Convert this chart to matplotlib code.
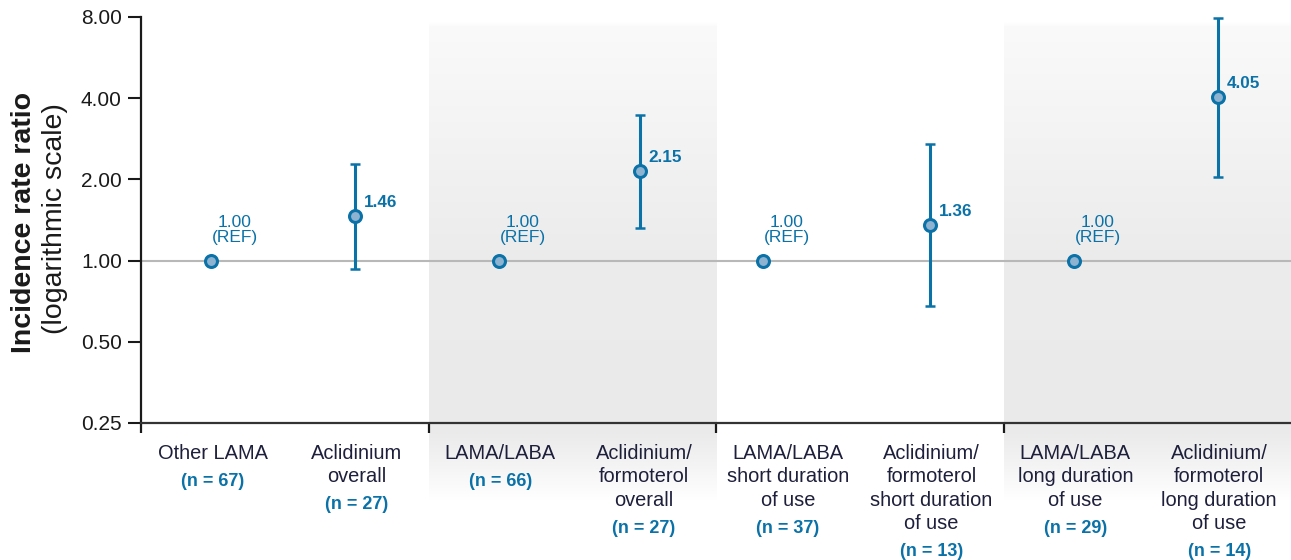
import numpy as np
import matplotlib
matplotlib.use('Agg')
import matplotlib.pyplot as plt
from matplotlib.transforms import blended_transform_factory

plt.rcParams['font.family'] = ['Liberation Sans', 'DejaVu Sans']

# incidence rate ratios with 95% CI
categories = [
    'Other LAMA',
    'Aclidinium\noverall',
    'LAMA/LABA',
    'Aclidinium/\nformoterol\noverall',
    'LAMA/LABA\nshort duration\nof use',
    'Aclidinium/\nformoterol\nshort duration\nof use',
    'LAMA/LABA\nlong duration\nof use',
    'Aclidinium/\nformoterol\nlong duration\nof use',
]
n_labels = ['(n = 67)', '(n = 27)', '(n = 66)', '(n = 27)',
            '(n = 37)', '(n = 13)', '(n = 29)', '(n = 14)']
irr = [1.00, 1.46, 1.00, 2.15, 1.00, 1.36, 1.00, 4.05]
ci_low = [None, 0.93, None, 1.32, None, 0.68, None, 2.05]
ci_high = [None, 2.29, None, 3.47, None, 2.71, None, 7.93]
is_ref = [True, False, True, False, True, False, True, False]
yticks = [0.25, 0.5, 1, 2, 4, 8]
ytick_labels = ['0.25', '0.50', '1.00', '2.00', '4.00', '8.00']

# category slots; the short-duration reference point sits a bit left of its slot
label_pos = np.arange(len(categories)) + 0.5
point_pos = [0.49, 1.49, 2.49, 3.47, 4.33, 5.49, 6.49, 7.49]

BLUE = '#0b72a8'
FACE = '#8db3d1'
TXT = '#1d1f3b'

W, H = 1291, 560
fig = plt.figure(figsize=(W / 100, H / 100), dpi=100)

ax = fig.add_axes([141 / W, (H - 423) / H, (W - 141) / W, (423 - 17) / H])
ax.set_yscale('log', base=2)
ax.set_ylim(0.25, 8)
ax.set_xlim(0, 8)
ax.patch.set_alpha(0)

# background layer in pixel coordinates for the shaded groups
bg = fig.add_axes([0, 0, 1, 1], zorder=-1)
bg.axis('off')
ys = np.arange(H)
grey = np.interp(ys, [0, 22, 26, 250, 430, 462, 500, H],
                 [255, 255, 250, 236, 234, 243, 255, 255])
grad = np.repeat(grey[:, None], 2, axis=1) / 255.0
for x0, x1 in [(2, 4), (6, 8)]:
    px0 = ax.transData.transform((x0, 1))[0]
    px1 = ax.transData.transform((x1, 1))[0]
    bg.imshow(np.dstack([grad, grad, grad]), extent=(px0, px1, H, 0),
              aspect='auto', interpolation='bilinear')
bg.set_xlim(0, W)
bg.set_ylim(H, 0)

# reference line at 1
ax.axhline(1, color='#b8b8b8', lw=1.5, zorder=1)

for i in range(len(irr)):
    x = point_pos[i]
    if ci_low[i] is not None:
        ax.errorbar(x, irr[i], yerr=[[irr[i] - ci_low[i]], [ci_high[i] - irr[i]]],
                    fmt='none', ecolor=BLUE, elinewidth=2.2, capsize=3.4,
                    capthick=1.8, zorder=3)
    ax.plot(x, irr[i], 'o', ms=8.6, mfc=FACE, mec=BLUE, mew=2.2, zorder=4)
    if is_ref[i]:
        ax.annotate('{:.2f}\n(REF)'.format(irr[i]), (x, irr[i]),
                    xytext=(17, 11), textcoords='offset points',
                    ha='center', va='bottom', fontsize=12.5, color=BLUE,
                    linespacing=1.0)
    else:
        ax.annotate('{:.2f}'.format(irr[i]), (x, irr[i]),
                    xytext=(6.5, 6.5), textcoords='offset points',
                    ha='left', va='baseline', fontsize=12.3, color=BLUE,
                    fontweight='bold')

# axes styling
for s in ['top', 'right']:
    ax.spines[s].set_visible(False)
ax.spines['left'].set_color('#1a1a1a')
ax.spines['left'].set_linewidth(1.6)
ax.spines['bottom'].set_color('#333333')
ax.spines['bottom'].set_linewidth(1.6)
ax.set_yticks(yticks)
ax.set_yticklabels(ytick_labels)
ax.yaxis.set_minor_locator(matplotlib.ticker.NullLocator())
ax.tick_params(axis='y', length=9.5, width=1.5, pad=4.3, labelsize=15,
               colors='#1a1a1a', direction='out')
ax.set_xticks([0, 2, 4, 6])
ax.set_xticklabels([])
ax.tick_params(axis='x', length=7, width=1.6, color='#1a1a1a', direction='out')

# category labels under the axis, one line at a time
tr = blended_transform_factory(ax.transData, fig.transFigure)
line_gap = 23.3
for i, lab in enumerate(categories):
    lines = lab.split('\n')
    for k, line in enumerate(lines):
        y = 459 + line_gap * k
        fig.text(label_pos[i], 1 - y / H, line, transform=tr, ha='center',
                 va='baseline', fontsize=14.4, color=TXT)
    y_n = 459 + line_gap * (len(lines) - 1) + 27
    ax.text(label_pos[i], 1 - y_n / H, n_labels[i], transform=tr,
            ha='center', va='baseline', fontsize=13, color=BLUE,
            fontweight='bold', clip_on=False)

fig.text(24 / W, 1 - 222 / H, 'Incidence rate ratio', rotation=90,
         ha='center', va='center', fontsize=20.5, fontweight='bold',
         color='#1a1a1a')
fig.text(55 / W, 1 - 219 / H, '(logarithmic scale)', rotation=90,
         ha='center', va='center', fontsize=20.5, color='#1a1a1a')

fig.savefig('out.png', dpi=100)
